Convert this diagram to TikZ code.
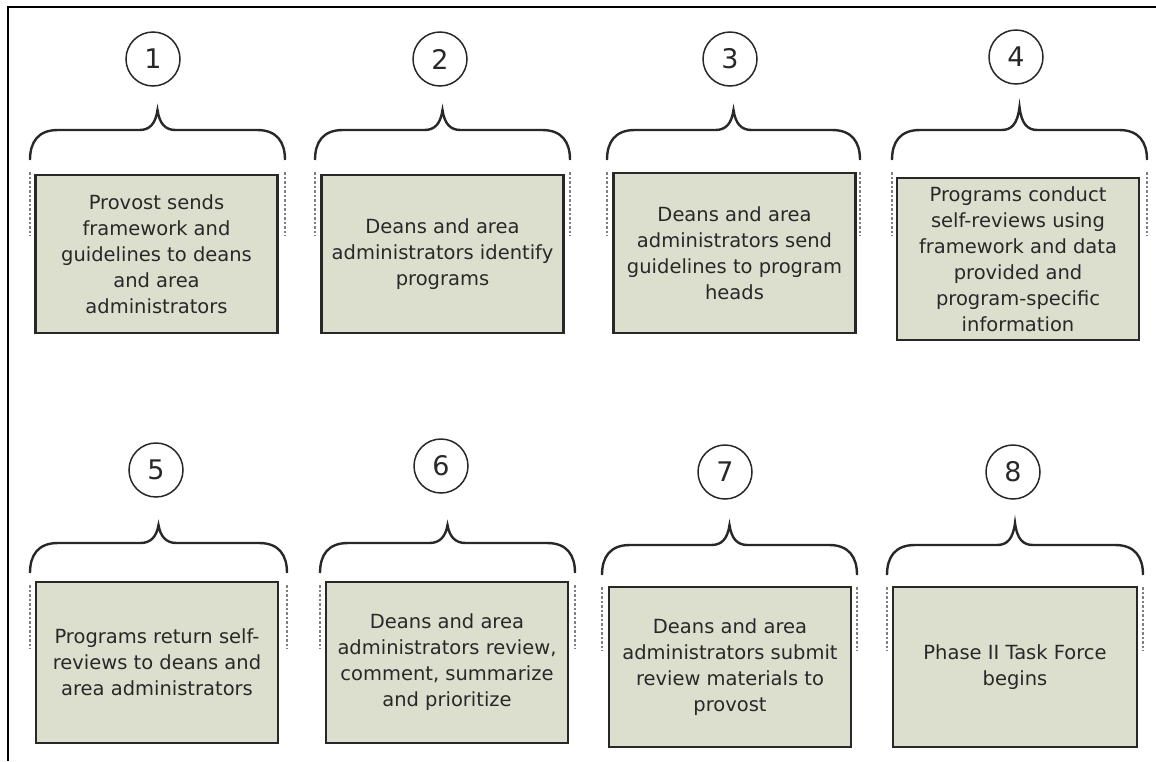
\documentclass[tikz,border=0pt]{standalone}
\usepackage{fontspec}
\setmainfont{DejaVu Sans}
\usepackage{tikz}
\usetikzlibrary{positioning, calc}

\definecolor{boxfill}{RGB}{221,223,206}
\definecolor{inkgray}{RGB}{40,40,40}

\begin{document}
\begin{tikzpicture}[
        x=1pt, y=-1pt,
        stepbox/.style={draw=inkgray, line width=2.2pt, fill=boxfill, minimum width=242, minimum height=160,
                        inner sep=0pt, align=center, text=inkgray, font=\fontsize{19.5}{26}\selectfont},
        numcirc/.style={draw=inkgray, line width=1.5pt, circle, minimum size=54, inner sep=0pt,
                        text=inkgray, font=\fontsize{27}{27}\selectfont},
        bracepath/.style={draw=inkgray, line width=2.4pt},
        dotline/.style={draw=gray, line width=2pt, dash pattern=on 2.5pt off 2pt}
    ]
    \useasboundingbox (0,0) rectangle (1156,761);

    % frame
    \draw[line width=2.5pt] (1156,7) -- (8,7) -- (8,761);

    % number circles
    \node[numcirc] (c1) at (153,59) {1};
    \node[numcirc] (c2) at (440,59) {2};
    \node[numcirc] (c3) at (730,59) {3};
    \node[numcirc] (c4) at (1016,57) {4};
    \node[numcirc] (c5) at (156,470) {5};
    \node[numcirc] (c6) at (441,466) {6};
    \node[numcirc] (c7) at (725,472) {7};
    \node[numcirc] (c8) at (1013,472) {8};

    % step boxes
    \node[stepbox, minimum height=158] (b1) at (156.5,254) {Provost sends\\framework and\\guidelines to deans\\and area\\administrators};
    \node[stepbox, minimum height=158] (b2) at (442.5,254) {Deans and area\\administrators identify\\programs};
    \node[stepbox, minimum height=160] (b3) at (734.5,253) {Deans and area\\administrators send\\guidelines to program\\heads};
    \node[stepbox, minimum height=162] (b4) at (1018,259) {Programs conduct\\self-reviews using\\framework and data\\provided and\\program-specific\\information};
    \node[stepbox, minimum height=161] (b5) at (157,662.5) {Programs return self-\\reviews to deans and\\area administrators};
    \node[stepbox, minimum height=161] (b6) at (447,662.5) {Deans and area\\administrators review,\\comment, summarize\\and prioritize};
    \node[stepbox] (b7) at (730,667) {Deans and area\\administrators submit\\review materials to\\provost};
    \node[stepbox, minimum width=244] (b8) at (1015,667) {Phase II Task Force\\begins};

    % braces with dotted sides
    \foreach \l/\r/\b/\t in {30/285/160/110, 315/570/160/110, 607/860/160/110, 892/1147/160/107,
                             30/287/573/525, 320/575/573/525, 602/857/575/525, 887/1143/575/523} {
        \pgfmathsetmacro\m{(\l+\r)/2}
        \draw[bracepath] (\l,\b) .. controls (\l,\b-18) and (\l+8,\b-30) .. (\l+28,\b-30)
            -- (\m-18,\b-30) .. controls (\m-8,\b-30) and (\m-2,\b-36) .. (\m,\t)
            .. controls (\m+2,\b-36) and (\m+8,\b-30) .. (\m+18,\b-30)
            -- (\r-28,\b-30) .. controls (\r-8,\b-30) and (\r,\b-18) .. (\r,\b);
        \draw[dotline] (\l,\b+12) -- (\l,\b+76);
        \draw[dotline] (\r,\b+12) -- (\r,\b+76);
    }

\end{tikzpicture}
\end{document}
